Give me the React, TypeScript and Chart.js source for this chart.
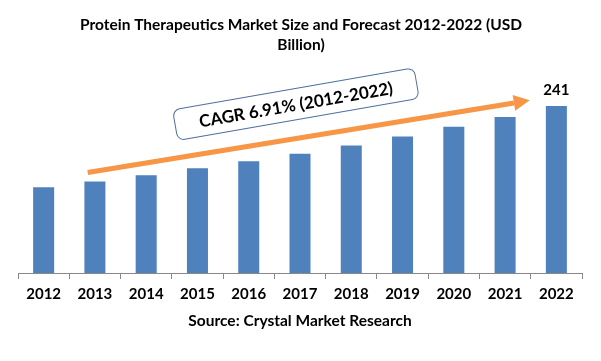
import React, { useEffect, useRef } from "react";
import { Chart, registerables } from "chart.js";
Chart.register(...registerables);

const years = ["2012", "2013", "2014", "2015", "2016", "2017", "2018", "2019", "2020", "2021", "2022"];
const marketSize = [123.5, 132, 141, 151, 161, 172, 184, 197, 211, 225, 241];
const titleLines = ["Protein Therapeutics Market Size and Forecast 2012-2022 (USD", "Billion)"];
const cagrLabel = "CAGR 6.91% (2012-2022)";
const sourceText = "Source: Crystal Market Research";
const labeledBars = [10];
// arrow anchors in (fractional category index, value)
const arrowStart = [0.86, 145];
const arrowEnd = [9.48, 249];
const boxCenter = [4.92, 243.5];

const FONT = "Lato, 'Open Sans', sans-serif";

const overlay = {
  id: "overlay",
  afterDraw(chart: any) {
    const ctx = chart.ctx as CanvasRenderingContext2D;
    const xs = chart.scales.x;
    const ys = chart.scales.y;
    const catW = (xs.right - xs.left) / years.length;
    const px = (i: number) => xs.left + (i + 0.5) * catW;
    const py = (v: number) => ys.getPixelForValue(v);
    ctx.save();
    ctx.fillStyle = "#000";
    ctx.textAlign = "center";
    ctx.textBaseline = "middle";
    ctx.font = `bold 15.5px ${FONT}`;
    titleLines.forEach((l, i) => ctx.fillText(l, 301, 25 + i * 20));

    // source
    ctx.font = `bold 15.5px ${FONT}`;
    ctx.fillText(sourceText, 300, 321);

    // data labels
    const meta = chart.getDatasetMeta(0);
    ctx.font = `bold 15px ${FONT}`;
    labeledBars.forEach((i) => {
      const el = meta.data[i];
      ctx.fillText(String(Math.round(marketSize[i])), el.x, el.y - 16);
    });

    // arrow
    const x1 = px(arrowStart[0]), y1 = py(arrowStart[1]);
    const x2 = px(arrowEnd[0]), y2 = py(arrowEnd[1]);
    const ang = Math.atan2(y2 - y1, x2 - x1);
    const headL = 16, headW = 8;
    const bx = x2 - headL * Math.cos(ang), by = y2 - headL * Math.sin(ang);
    ctx.strokeStyle = "#F79646";
    ctx.fillStyle = "#F79646";
    ctx.lineWidth = 5;
    ctx.beginPath();
    ctx.moveTo(x1, y1);
    ctx.lineTo(bx, by);
    ctx.stroke();
    ctx.beginPath();
    ctx.moveTo(x2, y2);
    ctx.lineTo(bx + headW * Math.sin(ang), by - headW * Math.cos(ang));
    ctx.lineTo(bx - headW * Math.sin(ang), by + headW * Math.cos(ang));
    ctx.closePath();
    ctx.fill();

    // CAGR box
    const cx = px(boxCenter[0]), cy = py(boxCenter[1]);
    ctx.translate(cx, cy);
    ctx.rotate((-9.9 * Math.PI) / 180);
    const w = 245, h = 31, r = 7;
    ctx.beginPath();
    ctx.roundRect(-w / 2, -h / 2, w, h, r);
    ctx.fillStyle = "#fff";
    ctx.fill();
    ctx.strokeStyle = "#4F6EA0";
    ctx.lineWidth = 1;
    ctx.stroke();
    ctx.fillStyle = "#000";
    ctx.font = `bold 17px ${FONT}`;
    ctx.fillText(cagrLabel, 0, 1);
    ctx.restore();
  },
};

export default function App() {
  const ref = useRef<HTMLCanvasElement>(null);
  useEffect(() => {
    if (!ref.current) return;
    const chart = new Chart(ref.current, {
      type: "bar",
      data: {
        labels: years,
        datasets: [
          {
            data: marketSize,
            backgroundColor: "#4F81BD",
            categoryPercentage: 1,
            barPercentage: 0.41,
          },
        ],
      },
      options: {
        animation: false,
        responsive: false,
        layout: { padding: { left: 18, right: 19, top: 65, bottom: 52 } },
        plugins: { legend: { display: false }, title: { display: false }, tooltip: { enabled: false } },
        scales: {
          x: {
            offset: true,
            grid: { offset: true, drawOnChartArea: false, tickLength: 6, tickColor: "#888", color: "#888" },
            border: { display: true, color: "#888" },
            ticks: { color: "#000", font: { family: FONT, weight: "bold", size: 15 }, padding: 6, maxRotation: 0 },
          },
          y: { display: false, min: 0, max: 300 },
        },
      },
      plugins: [overlay],
    });
    return () => chart.destroy();
  }, []);
  return (
    <div style={{ position: "fixed", left: 0, top: 0, width: 601, height: 361, background: "#fff" }}>
      <canvas ref={ref} width={601} height={361} style={{ width: 601, height: 361 }} />
    </div>
  );
}
